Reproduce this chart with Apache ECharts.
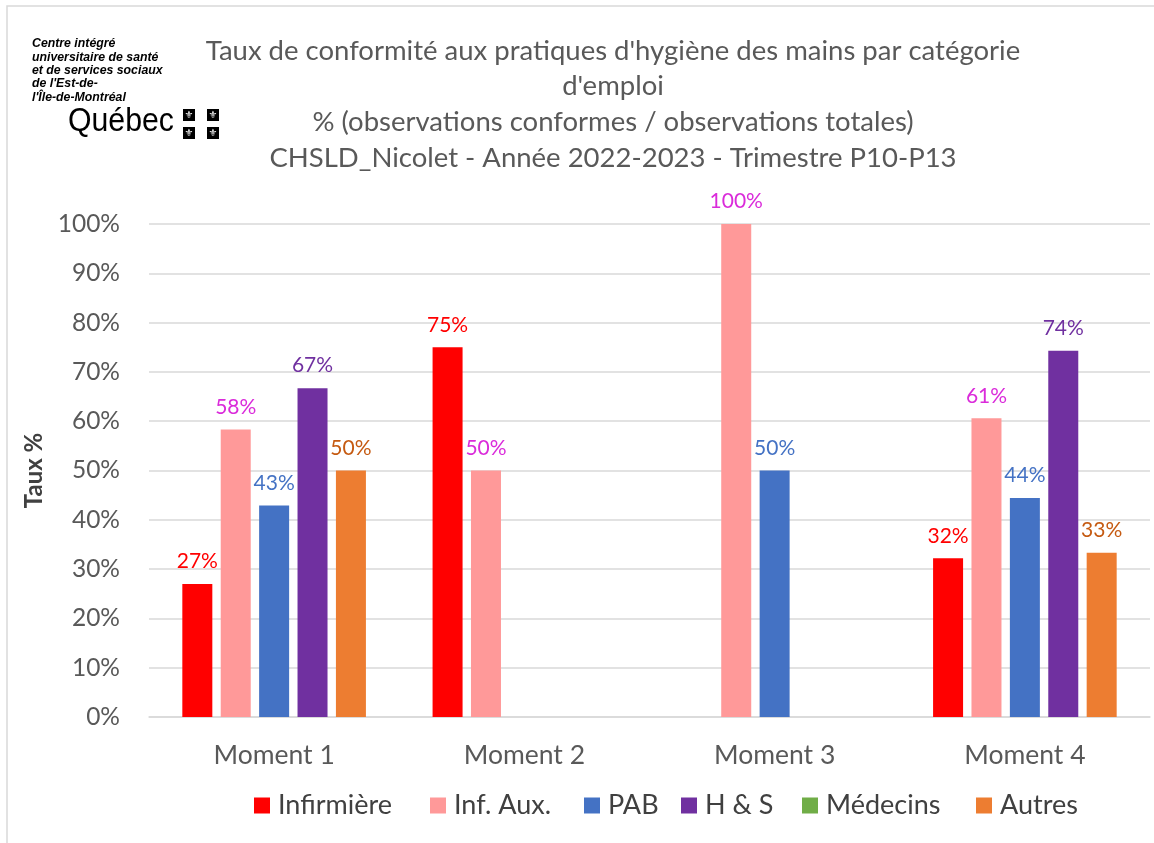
<!DOCTYPE html>
<html><head><meta charset="utf-8">
<script src="https://cdn.jsdelivr.net/npm/echarts@6/dist/echarts.min.js"></script>
<style>html,body{margin:0;padding:0;background:#fff}#c{width:1154px;height:843px}</style>
</head><body><div id="c"></div>
<script>
const categories = ['Moment 1', 'Moment 2', 'Moment 3', 'Moment 4'];
const infirmiere = [27.0, 75.0, null, 32.2];
const infAux = [58.3, 50.0, 100.0, 60.6];
const pab = [42.9, null, 50.0, 44.4];
const hs = [66.7, null, null, 74.3];
const medecins = [null, null, null, null];
const autres = [50.0, null, null, 33.3];
const seriesNames = ['Infirmière', 'Inf. Aux.', 'PAB', 'H & S', 'Médecins', 'Autres'];
const yTicks = [0, 10, 20, 30, 40, 50, 60, 70, 80, 90, 100];
const titleLines = ["Taux de conformité aux pratiques d'hygiène des mains par catégorie", "d'emploi", "% (observations conformes / observations totales)", "CHSLD_Nicolet - Année 2022-2023 - Trimestre P10-P13"];
const logoLines = ['Centre intégré', 'universitaire de santé', 'et de services sociaux', "de l'Est-de-", "l'Île-de-Montréal"];

const FONT = 'Lato, "Open Sans", sans-serif';
const barColors = ['#FF0000', '#FF9999', '#4472C4', '#7030A0', '#70AD47', '#ED7D31'];
const labelColors = ['#FF0000', '#DA2BDA', '#4472C4', '#7030A0', '#70AD47', '#C55A11'];
const legendLeft = [254, 430, 584, 681, 802, 976];
const datas = [infirmiere, infAux, pab, hs, medecins, autres];

const chart = echarts.init(document.getElementById('c'), null, {renderer: 'canvas'});
const series = seriesNames.map((n, i) => ({
  name: n,
  type: 'bar',
  data: datas[i],
  stack: (i === 4 || i === 5) ? 'ma' : undefined,
  barWidth: 30,
  barGap: '28%',
  itemStyle: {color: barColors[i]},
  label: {
    show: true, position: 'top', distance: 12,
    color: labelColors[i], fontFamily: FONT, fontSize: 21,
    formatter: p => (p.value == null ? '' : Math.round(p.value) + '%')
  }
}));

const legends = seriesNames.map((n, i) => ({
  data: [n], left: legendLeft[i], top: 792, padding: 0,
  icon: 'rect', itemWidth: 16, itemHeight: 16,
  textStyle: {fontFamily: FONT, fontSize: 27, color: '#404040', padding: [0, 0, 0, 3]}
}));

const logo = [];
logoLines.forEach((t, i) => logo.push({
  type: 'text', left: 32, top: 38 + i * 13.3,
  style: {text: t, font: 'italic bold 12.3px "Liberation Sans", Arial, sans-serif', fill: '#000'}
}));
logo.push({type: 'text', x: 68, y: 105, scaleX: 0.89, originX: 0, originY: 0, style: {text: 'Québec', font: '34px "Liberation Sans", sans-serif', fill: '#000'}});
[[183, 109], [207, 109], [183, 127], [207, 127]].forEach(([x, y]) => {
  logo.push({type: 'rect', shape: {x: x, y: y, width: 12, height: 12}, style: {fill: '#000'}});
  logo.push({type: 'text', x: x + 6, y: y + 6, style: {text: '⚜', font: '10px "DejaVu Sans"', fill: '#fff', textAlign: 'center', textVerticalAlign: 'middle'}});
});
logo.push({type: 'rect', shape: {x: 7, y: 6, width: 1200, height: 900}, style: {fill: 'none', stroke: '#D9D9D9', lineWidth: 1.5}, z: -1});

chart.setOption({
  backgroundColor: '#fff',
  animation: false,
  title: {
    text: titleLines.join('\n'),
    left: 608, top: 28, textAlign: 'center',
    textStyle: {fontFamily: FONT, fontSize: 27.5, fontWeight: 'normal', color: '#595959', lineHeight: 35.7}
  },
  legend: legends,
  grid: {left: 149, right: 4, top: 224, bottom: 126},
  xAxis: {
    type: 'category', data: categories,
    axisLine: {lineStyle: {color: '#D9D9D9', width: 1.5}},
    axisTick: {show: false},
    axisLabel: {fontFamily: FONT, fontSize: 26.5, color: '#595959', margin: 25}
  },
  yAxis: {
    type: 'value', min: 0, max: 100, interval: 10,
    name: 'Taux %', nameLocation: 'middle', nameGap: 103, nameRotate: 90,
    nameTextStyle: {fontFamily: FONT, fontSize: 24, fontWeight: 'bold', color: '#404040'},
    axisLine: {show: false}, axisTick: {show: false},
    splitLine: {lineStyle: {color: '#D9D9D9', width: 1.5}},
    axisLabel: {fontFamily: FONT, fontSize: 24.5, color: '#595959', margin: 29, formatter: v => (yTicks.includes(v) ? v + '%' : '')}
  },
  graphic: logo,
  series: series
});
</script></body></html>
